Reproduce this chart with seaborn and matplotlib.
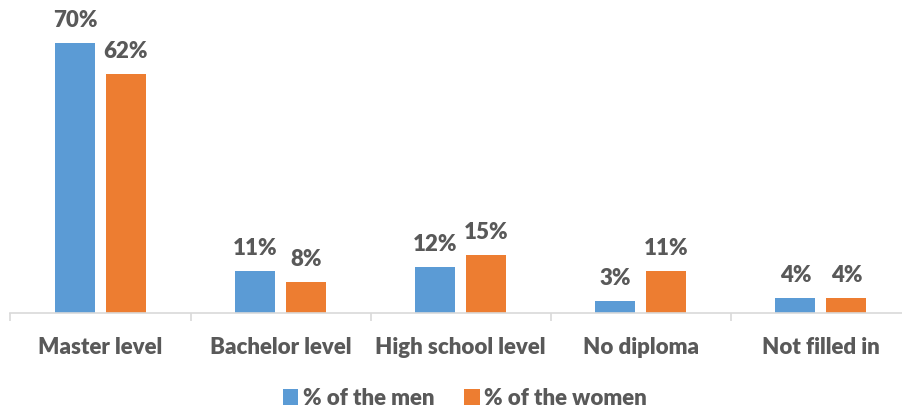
import matplotlib
matplotlib.use("Agg")
import matplotlib.pyplot as plt
from matplotlib.patches import Patch
import seaborn as sns
import pandas as pd

categories = ["Master level", "Bachelor level", "High school level", "No diploma", "Not filled in"]
men = [70, 11, 12, 3, 4]
women = [62, 8, 15, 11, 4]
series_names = ["% of the men", "% of the women"]
colors = ["#5B9BD5", "#ED7D31"]

df = pd.DataFrame({
    "category": categories * 2,
    "value": men + women,
    "series": [series_names[0]] * len(categories) + [series_names[1]] * len(categories),
})

sns.set_theme(style="white")
plt.rcParams["font.family"] = ["Lato", "DejaVu Sans"]
plt.rcParams["savefig.bbox"] = "standard"
text_color = "#595959"
axis_color = "#D9D9D9"
weight = "heavy"

W, H = 902, 411
fig = plt.figure(figsize=(W / 100, H / 100), dpi=100)
axis_y = 313
left_px = 10.4
cat_px = 180.1
ax = fig.add_axes([left_px / W, (H - axis_y) / H, (W - left_px) / W, axis_y / H])

sns.barplot(data=df, x="category", y="value", hue="series", palette=colors,
            order=categories, hue_order=series_names, saturation=1,
            width=0.567, gap=0.218, linewidth=0, ax=ax, legend=False)

px_per_unit = 3.857
ax.set_ylim(0, axis_y / px_per_unit)
ax.set_xlim(-0.5, -0.5 + (W - left_px) / cat_px)

# value labels above bars
for container in ax.containers:
    for bar in container:
        h = bar.get_height()
        ax.annotate(f"{h:.0f}%", (bar.get_x() + bar.get_width() / 2, h),
                    xytext=(0, 11.5), textcoords="offset points",
                    ha="center", va="baseline", fontsize=16, fontweight=weight,
                    color=text_color)

# axis styling
for s in ["top", "right", "left"]:
    ax.spines[s].set_visible(False)
ax.spines["bottom"].set_color(axis_color)
ax.spines["bottom"].set_linewidth(1.2)
ax.set_yticks([])
ax.set_xlabel("")
ax.set_ylabel("")
ax.set_xticks(range(len(categories)))
ax.set_xticklabels(categories, fontsize=16, fontweight=weight, color=text_color)
ax.tick_params(axis="x", which="major", bottom=False, length=0, pad=17)
# separators between categories (the last one falls past the right edge)
ax.set_xticks([i - 0.5 for i in range(len(categories))], minor=True)
ax.tick_params(axis="x", which="minor", bottom=True, length=6, width=1.2,
               color=axis_color, direction="out")
ax.grid(False)

handles = [Patch(facecolor=c, edgecolor="none") for c in colors]
leg = fig.legend(handles, series_names, loc="center", bbox_to_anchor=(465 / W, 1 - 398 / H),
                 ncol=2, frameon=False, handlelength=0.7, handleheight=0.7,
                 handletextpad=0.2, columnspacing=1.35,
                 prop={"family": ["Lato", "DejaVu Sans"], "weight": weight, "size": 16})
for t in leg.get_texts():
    t.set_color(text_color)

fig.savefig("out.png", dpi=100)
